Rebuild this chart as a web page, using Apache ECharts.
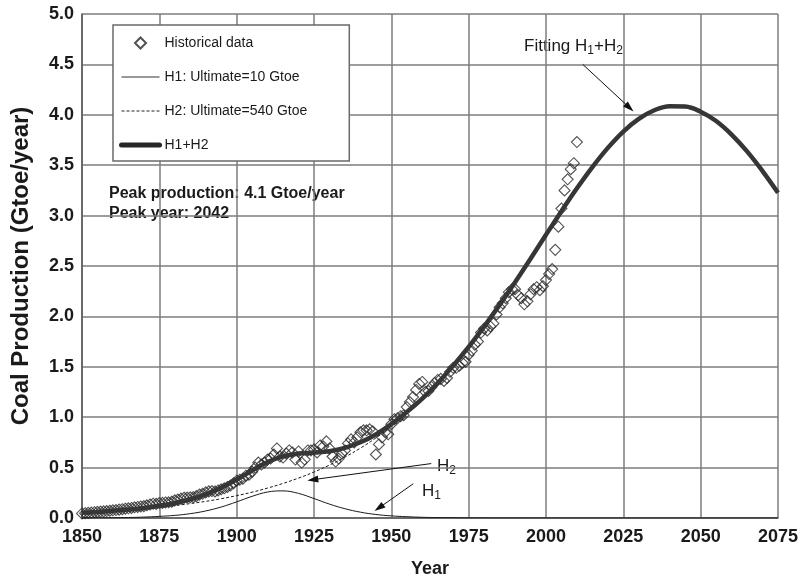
<!DOCTYPE html>
<html>
<head>
<meta charset="utf-8">
<script src="https://cdn.jsdelivr.net/npm/echarts@6/dist/echarts.min.js"></script>
<style>
html,body{margin:0;padding:0;background:#fff;}
#chart{width:801px;height:583px;}
</style>
</head>
<body>
<div id="chart"></div>
<script>
// ---- data ----
const histStartYear = 1850;
const historical = [
  0.045,0.048,0.051,0.054,0.058,0.061,0.064,0.066,0.069,0.072,
  0.076,0.079,0.083,0.087,0.092,0.096,0.100,0.106,0.110,0.115,
  0.118,0.126,0.134,0.142,0.140,0.148,0.150,0.154,0.156,0.162,
  0.175,0.183,0.192,0.201,0.203,0.205,0.207,0.217,0.232,0.240,
  0.254,0.264,0.267,0.263,0.273,0.285,0.295,0.308,0.322,0.345,
  0.37,0.38,0.39,0.42,0.43,0.46,0.50,0.55,0.53,0.55,
  0.58,0.59,0.63,0.69,0.61,0.60,0.64,0.67,0.65,0.58,
  0.66,0.55,0.58,0.67,0.67,0.68,0.65,0.72,0.71,0.76,
  0.69,0.61,0.56,0.59,0.64,0.67,0.74,0.78,0.75,0.80,
  0.85,0.87,0.87,0.88,0.86,0.63,0.73,0.80,0.85,0.83,
  0.93,0.98,0.99,1.01,1.02,1.10,1.15,1.20,1.27,1.33,
  1.35,1.25,1.26,1.30,1.34,1.37,1.38,1.36,1.39,1.45,
  1.49,1.49,1.51,1.54,1.55,1.62,1.66,1.72,1.75,1.84,
  1.88,1.86,1.90,1.93,2.02,2.09,2.13,2.18,2.24,2.27,
  2.27,2.21,2.18,2.12,2.15,2.22,2.27,2.29,2.26,2.30,
  2.36,2.42,2.47,2.66,2.89,3.07,3.25,3.36,3.46,3.52,3.73
];
const curveYears = [1850,1855,1860,1865,1870,1875,1880,1885,1890,1895,1900,1905,1910,1915,1920,1925,1930,1935,1940,1945,1950,1955,1960,1965,1970,1975,1980,1985,1990,1995,2000,2005,2010,2015,2020,2025,2030,2035,2040,2045,2050,2055,2060,2065,2070,2075];
const h1 = [0.001,0.002,0.003,0.005,0.009,0.016,0.026,0.043,0.070,0.109,0.160,0.215,0.258,0.269,0.244,0.193,0.138,0.092,0.058,0.035,0.021,0.013,0.007,0.004,0.003,0.0015,0.0009,0.0005,0.0003,0.0002,0.0001,0,0,0,0,0,0,0,0,0,0,0,0,0,0,0];
const h2 = [0.050,0.058,0.068,0.079,0.091,0.106,0.123,0.143,0.165,0.191,0.222,0.256,0.297,0.343,0.396,0.456,0.525,0.604,0.693,0.794,0.910,1.038,1.178,1.335,1.509,1.696,1.898,2.113,2.340,2.572,2.810,3.044,3.271,3.482,3.672,3.834,3.959,4.045,4.086,4.082,4.031,3.938,3.804,3.637,3.442,3.227];
const h1h2 = [0.051,0.060,0.071,0.084,0.100,0.121,0.149,0.186,0.235,0.300,0.382,0.471,0.555,0.612,0.639,0.649,0.663,0.696,0.751,0.829,0.931,1.051,1.185,1.339,1.512,1.698,1.899,2.114,2.340,2.572,2.810,3.044,3.271,3.482,3.672,3.834,3.959,4.045,4.086,4.082,4.031,3.938,3.804,3.637,3.442,3.227];
const xTicks = {min:1850, max:2075, step:25};
const yTicks = {min:0, max:5, step:0.5};
// annotation arrows in data coordinates [year, value]
const arrowFitting = [[2011.9, 4.50], [2027.0, 4.07]];
const arrowH2 = [[1962.9, 0.54], [1924.6, 0.38]];
const arrowH1 = [[1957.1, 0.34], [1946.0, 0.10]];

const FONT = "'Liberation Sans', Arial, sans-serif";
const TXT = '#1a1a1a';

const pair = (xs, ys) => xs.map((x, i) => [x, ys[i]]);
const histData = historical.map((v, i) => [histStartYear + i, v]);

const chart = echarts.init(document.getElementById('chart'), null, {renderer: 'canvas'});
const arrowLine = (a) => [{coord: a[0], symbol: 'none'}, {coord: a[1], symbol: 'triangle'}];
const noDot = {opacity: 0};

chart.setOption({
  animation: false,
  backgroundColor: '#fff',
  grid: {left: 82, right: 20, top: 14, bottom: 57, containLabel: false},
  legend: {
    orient: 'vertical', left: 113, top: 25,
    symbolKeepAspect: true,
    data: [
      {name: 'Historical data', icon: 'path://M5,0L10,5L5,10L0,5Z'},
      {name: 'H1: Ultimate=10 Gtoe', itemStyle: noDot, lineStyle: {width: 1, color: '#333'}},
      {name: 'H2: Ultimate=540 Gtoe', itemStyle: noDot, lineStyle: {width: 1, color: '#222', type: [3, 2]}},
      {name: 'H1+H2', itemStyle: noDot, lineStyle: {width: 5, color: '#262626', cap: 'round'}}
    ],
    itemWidth: 38, itemHeight: 11, itemGap: 18, itemTextGap: 6,
    padding: [10, 42, 8, 6],
    backgroundColor: '#fff', borderColor: '#6a6a6a', borderWidth: 1.5, borderRadius: 0,
    textStyle: {fontFamily: FONT, fontSize: 14, color: TXT, lineHeight: 16},
    selectedMode: false
  },
  xAxis: {
    type: 'value', min: xTicks.min, max: xTicks.max, interval: xTicks.step,
    name: 'Year', nameLocation: 'middle', nameGap: 42,
    nameTextStyle: {fontFamily: FONT, fontSize: 18, fontWeight: 'bold', color: TXT},
    axisLine: {show: true, lineStyle: {color: '#5a5a5a', width: 1.5}},
    axisTick: {show: false},
    axisLabel: {fontFamily: FONT, fontSize: 18, fontWeight: 'bold', color: TXT, margin: 10,
      formatter: v => String(v)},
    splitLine: {show: true, lineStyle: {color: '#7d7d7d', width: 1.5}}
  },
  yAxis: {
    type: 'value', min: yTicks.min, max: yTicks.max, interval: yTicks.step,
    name: 'Coal Production (Gtoe/year)', nameLocation: 'middle', nameGap: 49, nameRotate: 90,
    nameTextStyle: {fontFamily: FONT, fontSize: 24, fontWeight: 'bold', color: TXT},
    axisLine: {show: true, lineStyle: {color: '#5a5a5a', width: 1.5}},
    axisTick: {show: false},
    axisLabel: {fontFamily: FONT, fontSize: 18, fontWeight: 'bold', color: TXT, margin: 8,
      formatter: v => v.toFixed(1)},
    splitLine: {show: true, lineStyle: {color: '#7d7d7d', width: 1.5}}
  },
  series: [
    {
      name: 'Historical data', type: 'scatter', data: histData,
      symbol: 'diamond', symbolSize: 11, symbolKeepAspect: true,
      itemStyle: {color: 'rgba(255,255,255,0)', borderColor: '#262626', borderWidth: 1.1},
      z: 2
    },
    {
      name: 'H1: Ultimate=10 Gtoe', type: 'line', data: pair(curveYears, h1),
      symbol: 'none', smooth: 0.4, color: '#1a1a1a',
      lineStyle: {color: '#1a1a1a', width: 1},
      z: 3,
      markLine: {
        silent: true, symbolSize: [7, 11], animation: false,
        label: {show: false},
        lineStyle: {color: '#111', width: 1, type: 'solid'},
        emphasis: {disabled: true},
        data: [arrowLine(arrowFitting), arrowLine(arrowH2), arrowLine(arrowH1)]
      }
    },
    {
      name: 'H2: Ultimate=540 Gtoe', type: 'line', data: pair(curveYears, h2),
      symbol: 'none', smooth: 0.4, color: '#1a1a1a',
      lineStyle: {color: '#1a1a1a', width: 1, type: [3, 2]},
      z: 3
    },
    {
      name: 'H1+H2', type: 'line', data: pair(curveYears, h1h2),
      symbol: 'none', smooth: 0.4, color: '#363636',
      lineStyle: {color: '#363636', width: 4.5},
      z: 4
    }
  ],
  graphic: [
    {type: 'text', x: 109, y: 194, style: {text: 'Peak production: 4.1 Gtoe/year', font: "bold 16px " + FONT, fill: TXT, verticalAlign: 'middle'}},
    {type: 'text', x: 109, y: 214, style: {text: 'Peak year: 2042', font: "bold 16px " + FONT, fill: TXT, verticalAlign: 'middle'}},
    {type: 'text', x: 524, y: 46, style: {
      text: '{a|Fitting H}{b|1}{a|+H}{b|2}', verticalAlign: 'middle',
      rich: {a: {fontFamily: FONT, fontSize: 17, lineHeight: 22, fill: TXT, color: TXT, verticalAlign: 'middle'},
             b: {fontFamily: FONT, fontSize: 12, lineHeight: 12, fill: TXT, color: TXT, verticalAlign: 'bottom'}}}},
    {type: 'text', x: 437, y: 466, style: {
      text: '{a|H}{b|2}', verticalAlign: 'middle',
      rich: {a: {fontFamily: FONT, fontSize: 17, lineHeight: 22, fill: TXT, color: TXT, verticalAlign: 'middle'},
             b: {fontFamily: FONT, fontSize: 12, lineHeight: 12, fill: TXT, color: TXT, verticalAlign: 'bottom'}}}},
    {type: 'text', x: 422, y: 491, style: {
      text: '{a|H}{b|1}', verticalAlign: 'middle',
      rich: {a: {fontFamily: FONT, fontSize: 17, lineHeight: 22, fill: TXT, color: TXT, verticalAlign: 'middle'},
             b: {fontFamily: FONT, fontSize: 12, lineHeight: 12, fill: TXT, color: TXT, verticalAlign: 'bottom'}}}}
  ]
});
</script>
</body>
</html>
